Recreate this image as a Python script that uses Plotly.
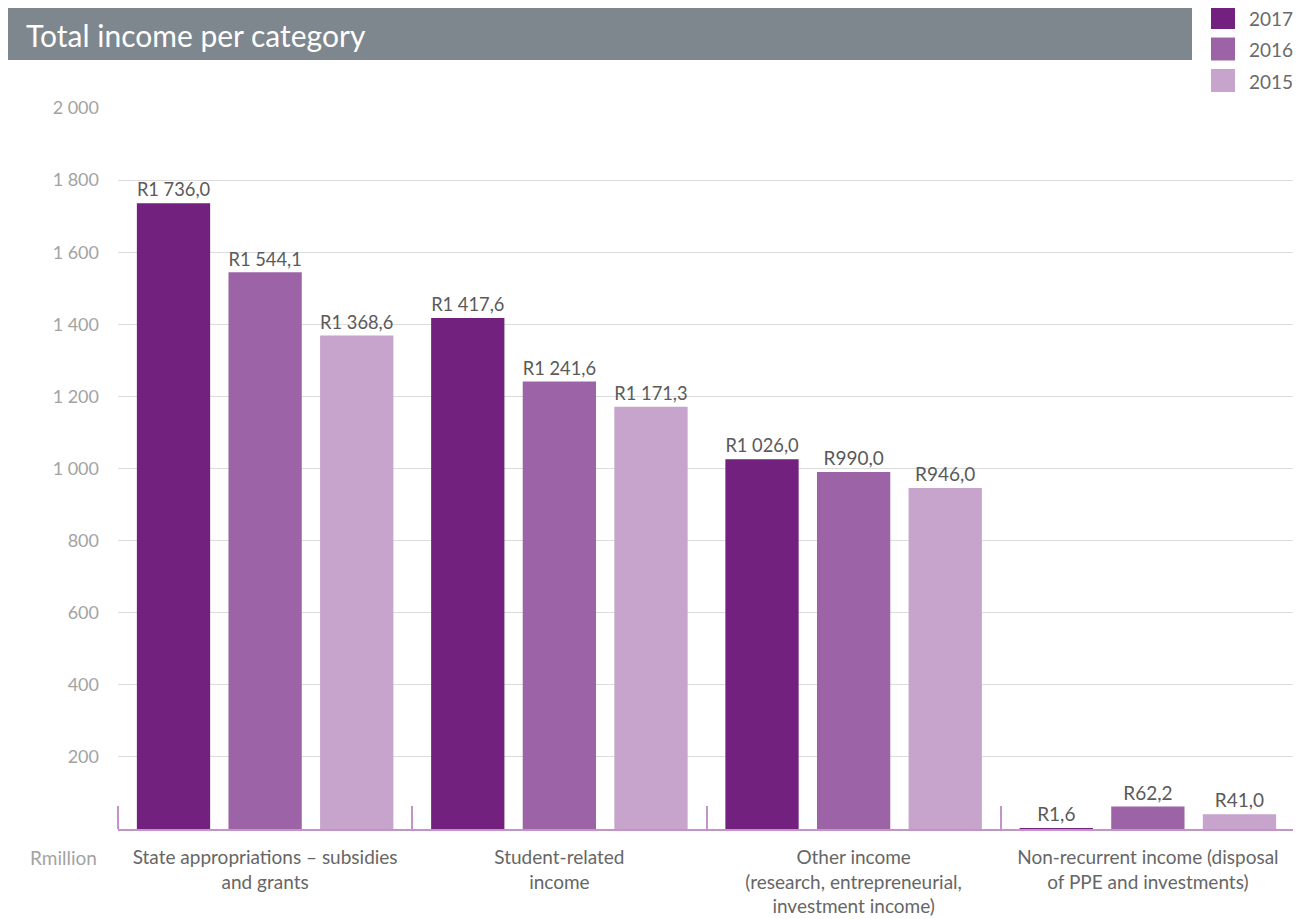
import plotly.graph_objects as go

categories = [
    "State appropriations – subsidies<br>and grants",
    "Student-related<br>income",
    "Other income<br>(research, entrepreneurial,<br>investment income)",
    "Non-recurrent income (disposal<br>of PPE and investments)",
]
years = ["2017", "2016", "2015"]
income_2017 = [1736.0, 1417.6, 1026.0, 1.6]
income_2016 = [1544.1, 1241.6, 990.0, 62.2]
income_2015 = [1368.6, 1171.3, 946.0, 41.0]
y_ticks = [200, 400, 600, 800, 1000, 1200, 1400, 1600, 1800, 2000]

colors = ["#72217f", "#9c63a6", "#c6a4cc"]
axis_purple = "#c294c8"
FONT = "Lato, Open Sans, sans-serif"


def rand(v):
    return "R" + f"{v:,.1f}".replace(",", " ").replace(".", ",")


def thousands(v):
    return f"{v:,}".replace(",", " ")


fig = go.Figure()
for year, values, color in zip(years, [income_2017, income_2016, income_2015], colors):
    fig.add_trace(
        go.Bar(
            x=categories,
            y=values,
            name=year,
            marker=dict(color=color, line=dict(width=0)),
            text=[rand(v) for v in values],
            textposition="outside",
            textfont=dict(family=FONT, size=19, color="#5a5a5a"),
            cliponaxis=False,
            hoverinfo="skip",
        )
    )

# the page body has an 8px margin, so the figure starts at (8, 8)
OFF = 8
W, H = 1301 - OFF, 919 - OFF
ml, mr, mt, mb = 118 - OFF, 6, 108 - OFF, 90
pw, ph = W - ml - mr, H - mt - mb


def px(x):
    return (x - OFF - ml) / pw


def py(y):
    return (H - mb - (y - OFF)) / ph


shapes = [
    dict(type="rect", xref="paper", yref="paper",
         x0=px(8), x1=px(1192), y0=py(60), y1=py(6),
         fillcolor="#7e868e", line=dict(width=0), layer="below"),
]
# end separators of the category axis
for xe in (0, 1):
    shapes.append(dict(type="line", xref="paper", yref="paper",
                       x0=xe, x1=xe, y0=0, y1=23 / ph,
                       line=dict(color=axis_purple, width=2)))

annotations = [
    dict(text="Total income per category", xref="paper", yref="paper",
         x=px(24), y=py(35), xanchor="left", yanchor="middle", showarrow=False,
         font=dict(family=FONT, size=30, color="white")),
    dict(text="Rmillion", xref="paper", yref="paper",
         x=px(99), y=py(857), xanchor="right", yanchor="middle", showarrow=False,
         font=dict(family=FONT, size=19, color="#a3a3a3")),
]
for i, (year, color) in enumerate(zip(years, colors)):
    top = 6 + i * 31.5
    shapes.append(dict(type="rect", xref="paper", yref="paper",
                       x0=px(1211), x1=px(1235), y0=py(top + 23), y1=py(top),
                       fillcolor=color, line=dict(width=0)))
    annotations.append(dict(text=year, xref="paper", yref="paper",
                            x=px(1247), y=py(top + 12), xanchor="left", yanchor="middle",
                            showarrow=False,
                            font=dict(family=FONT, size=19, color="#6a6a6a")))

fig.update_layout(
    width=W,
    height=H,
    margin=dict(l=ml, r=mr, t=mt, b=mb),
    paper_bgcolor="white",
    plot_bgcolor="white",
    barmode="group",
    bargap=0.066,
    bargroupgap=0.2,
    showlegend=False,
    shapes=shapes,
    annotations=annotations,
    font=dict(family=FONT),
    xaxis=dict(
        automargin=False,
        showline=True,
        linecolor=axis_purple,
        linewidth=2,
        ticks="inside",
        tickson="boundaries",
        ticklen=23,
        tickwidth=2,
        tickcolor=axis_purple,
        showgrid=False,
        tickfont=dict(family=FONT, size=19, color="#666666"),
        ticklabelstandoff=10,
    ),
    yaxis=dict(
        automargin=False,
        range=[0, 2000],
        tickvals=y_ticks,
        ticktext=[thousands(v) for v in y_ticks],
        showgrid=True,
        gridcolor="#dcdcdc",
        gridwidth=1,
        zeroline=False,
        showline=False,
        ticks="",
        ticklabelstandoff=18,
        tickfont=dict(family=FONT, size=18, color="#a3a3a3"),
    ),
)

fig.write_html("out.html")
